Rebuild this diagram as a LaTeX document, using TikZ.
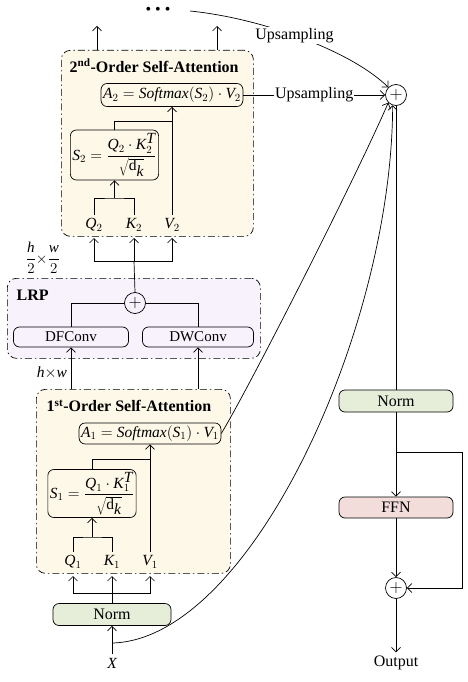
\RequirePackage{fix-cm}
\documentclass[tikz,border=0pt]{standalone}
\usepackage{fontspec}
\setmainfont{Liberation Serif}
\usetikzlibrary{arrows.meta}
\definecolor{creamfill}{HTML}{FDF8E8}
\definecolor{lavfill}{HTML}{F7F2FC}
\definecolor{greenfill}{HTML}{E6EEDA}
\definecolor{pinkfill}{HTML}{F2DDDB}
\newcommand\mi[1]{\textit{#1}}
\begin{document}
\begin{tikzpicture}[x=1pt,y=-1pt,line width=0.7pt,
  >={Straight Barb[length=4.5pt,width=9pt]},
  font=\fontsize{16}{19}\selectfont,
  rbox/.style={draw, rounded corners=6pt, inner sep=2pt, align=center},
  group/.style={draw, rounded corners=9pt, dash pattern=on 7pt off 3pt on 1.5pt off 3pt},
  addc/.style={draw, circle, minimum size=21pt, inner sep=0pt, font=\fontsize{18}{20}\selectfont},
  mathf/.style={font=\fontsize{15.5}{18}\selectfont},
  convf/.style={font=\fontsize{15}{17}\selectfont},
  title/.style={anchor=west, font=\bfseries\fontsize{16}{19}\selectfont},
  uplbl/.style={fill=white, inner sep=1pt}]
\useasboundingbox (0,0) rectangle (468,682);

% ---------- groups ----------
\node[group, fill=creamfill, minimum width=192pt, minimum height=186pt, anchor=north west] (sa2) at (61,50) {};
\node[group, fill=lavfill, minimum width=253pt, minimum height=80pt, anchor=north west] (lrp) at (7,278) {};
\node[group, fill=creamfill, minimum width=194pt, minimum height=184pt, anchor=north west] (sa1) at (36,389) {};

% ---------- top ----------
\node (dots) at (158,11) {\textbullet\ \textbullet\ \textbullet};
\coordinate (ds) at (190,11);
\coordinate (u1) at (97,26);
\coordinate (u2) at (217,26);
\draw[->] (u1 |- sa2.north) -- (u1);
\draw[->] (u2 |- sa2.north) -- (u2);

% ---------- 2nd order ----------
\node[title] (t2) at (66,66) {2\textsuperscript{nd}-Order Self-Attention};
\node[rbox, mathf, minimum width=136pt, minimum height=23pt] (A2) at (172,95)
  {$\mi{A}_2 = \mi{Softmax}(\mi{S}_2)\cdot\mi{V}_2$};
\node[rbox, mathf, minimum width=85pt, minimum height=50pt] (S2) at (114.5,155)
  {$\mi{S}_2=\displaystyle\frac{\mi{Q}_2\cdot\mi{K}_2^{\mi{T}}}{\sqrt{\mathrm{d}_{\mi{k}}}}$};
\node[mathf] (Q2) at (94,225) {$\mi{Q}_2$};
\node[mathf] (K2) at (134,225) {$\mi{K}_2$};
\node[mathf] (V2) at (172,225) {$\mi{V}_2$};
\coordinate (j2) at (114.5,198);
\coordinate (m2) at (172,121);
\draw (Q2.north) |- (j2) -| (K2.north);
\draw[->] (j2) -- (S2.south);
\draw (S2.north) |- (m2);
\draw[->] (V2.north) -- (A2.south);

% ---------- between 2nd and LRP ----------
\coordinate (q2t) at (94,238);
\coordinate (k2t) at (134,238);
\coordinate (v2t) at (172,238);
\coordinate (b2) at (134,261);
\draw[->] (b2) -| (q2t);
\draw[->] (b2) -| (v2t);
\draw[->] (b2) -- (k2t);
\node[font=\fontsize{15}{17}\selectfont] (hw2) at (43,258)
  {$\displaystyle\frac{\mi{h}}{2}{\times}\frac{\mi{w}}{2}$};

% ---------- LRP ----------
\node[title] (tl) at (13,295) {LRP};
\node[addc] (lp) at (135,303) {$+$};
\node[rbox, convf, minimum width=115pt, minimum height=20pt] (DF) at (71,337) {DFConv};
\node[rbox, convf, minimum width=111pt, minimum height=20pt] (DW) at (198,337) {DWConv};
\draw (lp.north) -- (b2);
\draw (lp.west) -| (DF.north);
\draw (lp.east) -| (DW.north);
\draw[->] (DF.south |- sa1.north) -- (DF.south);
\draw[->] (DW.south |- sa1.north) -- (DW.south);
\node[mathf] (hw1) at (52,373) {$\mi{h}{\times}\mi{w}$};

% ---------- 1st order ----------
\node[title] (t1) at (43,406) {1\textsuperscript{st}-Order Self-Attention};
\node[rbox, mathf, minimum width=134pt, minimum height=21pt] (A1) at (150,433.5)
  {$\mi{A}_1 = \mi{Softmax}(\mi{S}_1)\cdot\mi{V}_1$};
\node[rbox, mathf, minimum width=82pt, minimum height=48pt] (S1) at (92,493.5)
  {$\mi{S}_1=\displaystyle\frac{\mi{Q}_1\cdot\mi{K}_1^{\mi{T}}}{\sqrt{\mathrm{d}_{\mi{k}}}}$};
\node[mathf] (Q1) at (73,562) {$\mi{Q}_1$};
\node[mathf] (K1) at (112,562) {$\mi{K}_1$};
\node[mathf] (V1) at (150,562) {$\mi{V}_1$};
\coordinate (j1) at (92,537);
\coordinate (m1) at (150,459);
\draw (Q1.north) |- (j1) -| (K1.north);
\draw[->] (j1) -- (S1.south);
\draw (S1.north) |- (m1);
\draw[->] (V1.north) -- (A1.south);

% ---------- input ----------
\coordinate (q1t) at (73,576);
\coordinate (k1t) at (112,576);
\coordinate (v1t) at (150,576);
\coordinate (b1) at (112,593);
\node[rbox, fill=greenfill, minimum width=118pt, minimum height=22pt] (N1) at (112,614.5) {Norm};
\draw[->] (b1) -| (q1t);
\draw[->] (b1) -| (v1t);
\draw[->] (b1) -- (k1t);
\draw (N1.north) -- (b1);
\node[mathf] (X) at (112,663) {$\mi{X}$};
\draw[->] (X.north) -- (N1.south);
\coordinate (xc) at (112,643);

% ---------- right column ----------
\node[addc] (P1) at (396,95) {$+$};
\node[rbox, fill=greenfill, minimum width=114pt, minimum height=22pt] (N2) at (396,401) {Norm};
\node[rbox, fill=pinkfill, minimum width=114pt, minimum height=21pt] (FF) at (396,507.5) {FFN};
\node[addc] (P2) at (396,588) {$+$};
\node (Out) at (396,663) {Output};
\coordinate (br) at (396,452);
\coordinate (brc) at (462,452);
\draw (P1.south) -- (N2.north);
\draw[->] (N2.south) -- (FF.north);
\draw[->] (br) -- (brc) |- (P2.east);
\draw[->] (FF.south) -- (P2.north);
\draw[->] (P2.south) -- (Out.north);

% ---------- curves into top adder ----------
\draw[->] (A2.east) -- node[uplbl] {Upsampling} (P1.west);
\draw[->] (ds) .. controls (260,18) and (350,50) .. node[uplbl, pos=0.47] {Upsampling} (P1.north west);
\draw[->] (A1.east) .. controls (245,395) and (350,190) .. (P1.-135);
\draw[->] (xc) .. controls (250,640) and (392,330) .. (P1.-108);
\end{tikzpicture}
\end{document}
